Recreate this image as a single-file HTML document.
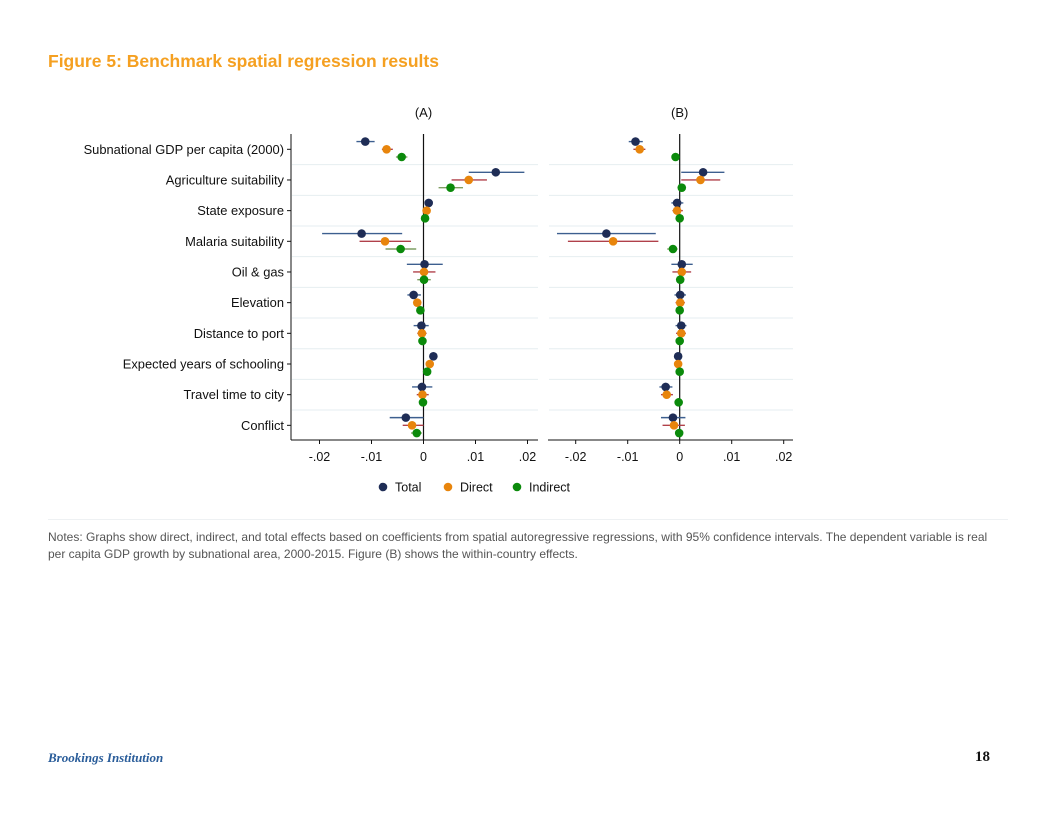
<!DOCTYPE html>
<html><head><meta charset="utf-8">
<style>
body{margin:0;width:1056px;height:816px;background:#fff;font-family:"Liberation Sans",sans-serif;position:relative;overflow:hidden}
.title{position:absolute;left:48px;top:51px;font-size:17.5px;font-weight:bold;color:#F5A021}
.notes{position:absolute;left:48px;top:529px;font-size:12px;line-height:17px;color:#555;width:950px}
.sep{position:absolute;left:48px;top:519px;width:960px;height:1px;background:#eef1f3}
.foot{position:absolute;left:48px;top:750px;font-family:"Liberation Serif",serif;font-style:italic;font-weight:bold;font-size:13px;color:#2a5d9a}
.page{position:absolute;left:975px;top:749px;font-family:"Liberation Serif",serif;font-weight:bold;font-size:15px;color:#111}
svg{position:absolute;left:0;top:0}
</style></head><body>
<div class="title">Figure 5: Benchmark spatial regression results</div>
<svg id="chart" width="1056" height="816"></svg>
<div class="sep"></div>
<div class="notes">Notes: Graphs show direct, indirect, and total effects based on coefficients from spatial autoregressive regressions, with 95% confidence intervals. The dependent variable is real per capita GDP growth by subnational area, 2000-2015. Figure (B) shows the within-country effects.</div>
<div class="foot">Brookings Institution</div>
<div class="page">18</div>
<script>
const categories=["Subnational GDP per capita (2000)","Agriculture suitability","State exposure","Malaria suitability","Oil & gas","Elevation","Distance to port","Expected years of schooling","Travel time to city","Conflict"];
const tickValues=[-0.02,-0.01,0,0.01,0.02];
const tickLabels=["-.02","-.01","0",".01",".02"];
const seriesNames=["Total","Direct","Indirect"];
// Panel A: [estimate, lo, hi]
const aTotal=[[-.0112,-.0129,-.0094],[.0139,.0087,.0194],[.001,.0005,.0015],[-.0119,-.0195,-.0041],[.0002,-.0032,.0037],[-.0019,-.0031,-.0005],[-.0004,-.0019,.001],[.0019,.0014,.0024],[-.0003,-.0022,.0017],[-.0034,-.0065,0]];
const aDirect=[[-.0071,-.008,-.0059],[.0087,.0054,.0122],[.0006,.0003,.0009],[-.0074,-.0123,-.0024],[.0001,-.002,.0023],[-.0012,-.0018,-.0006],[-.0003,-.0012,.0006],[.0012,.0009,.0015],[-.0002,-.0013,.001],[-.0022,-.004,0]];
const aIndirect=[[-.0042,-.0053,-.0031],[.0052,.0029,.0076],[.0003,.0001,.0005],[-.0044,-.0073,-.0014],[.0001,-.0012,.0014],[-.0006,-.001,-.0003],[-.0002,-.0004,0],[.0007,.0005,.0009],[-.0001,-.0003,.0001],[-.0013,-.0024,-.0003]];
// Panel B
const bTotal=[[-.0085,-.0098,-.0071],[.0045,.0003,.0086],[-.0005,-.0016,.0007],[-.0141,-.0236,-.0046],[.0004,-.0016,.0025],[.0001,-.001,.0012],[.0003,-.0008,.0013],[-.0003,-.001,.0004],[-.0027,-.0039,-.0014],[-.0013,-.0036,.0011]];
const bDirect=[[-.0077,-.0089,-.0066],[.004,.0003,.0078],[-.0005,-.0014,.0006],[-.0128,-.0215,-.0041],[.0004,-.0014,.0022],[.0001,-.0008,.001],[.0003,-.0007,.0012],[-.0003,-.0008,.0002],[-.0025,-.0036,-.0013],[-.0011,-.0033,.001]];
const bIndirect=[[-.0008,-.001,-.0006],[.0004,.0002,.0006],[0,-.0002,.0002],[-.0013,-.0024,-.0004],[.0001,-.0001,.0003],[0,-.0002,.0002],[0,-.0002,.0002],[0,-.0002,.0002],[-.0002,-.0004,0],[-.0001,-.0003,.0001]];

const NS="http://www.w3.org/2000/svg";
const svg=document.getElementById('chart');
function mk(t,a,p){const e=document.createElementNS(NS,t);for(const k in a)e.setAttribute(k,a[k]);(p||svg).appendChild(e);return e;}
const dotCol=["#1f2d56","#e8850c","#0b8a0b"];
const ciCol=["#3d5f8f","#b0404a","#7f9e63"];
const rowY=i=>149.3+i*30.67;
const offs=[-7.7,0,7.7];
function panel(zero,left,right,title,data,leftAxis,name){
  const g=mk('g',{});
  
  
  const x=v=>zero+v*5200;
  const top=134,bot=440;
  for(let i=1;i<categories.length;i++){
    const l=mk('line',{x1:left+1,x2:right,y1:rowY(i)-15.3,y2:rowY(i)-15.3,stroke:'#e6eef0','stroke-width':1},g);
    
    
  }
  const t=mk('text',{x:zero,y:117,'text-anchor':'middle','font-size':13,fill:'#111'},g);t.textContent=title;
  
  
  mk('line',{x1:left,x2:right,y1:bot,y2:bot,stroke:'#111','stroke-width':1},g);
  if(leftAxis){mk('line',{x1:left,x2:left,y1:top,y2:bot,stroke:'#111','stroke-width':1},g);
    categories.forEach((c,i)=>{mk('line',{x1:left-4,x2:left,y1:rowY(i),y2:rowY(i),stroke:'#111'},g);
      const tl=mk('text',{x:left-7,y:rowY(i)+4.5,'text-anchor':'end','font-size':12.9,fill:'#111'},g);tl.textContent=c;
      
      });}
  tickValues.forEach((v,i)=>{mk('line',{x1:x(v),x2:x(v),y1:bot,y2:bot+4,stroke:'#111'},g);
    const tt=mk('text',{x:x(v),y:bot+21,'text-anchor':'middle','font-size':12.5,fill:'#111'},g);tt.textContent=tickLabels[i];
    
    });
  mk('line',{x1:x(0),x2:x(0),y1:top,y2:bot,stroke:'#111','stroke-width':1.2},g);
  data.forEach((s,si)=>{s.forEach((d,i)=>{const y=rowY(i)+offs[si];
    const ci=mk('line',{x1:x(d[1]),x2:x(d[2]),y1:y,y2:y,stroke:ciCol[si],'stroke-width':1.4},g);
    
    
    const p=mk('circle',{cx:x(d[0]),cy:y,r:4.3,fill:dotCol[si]},g);
    
    });});
}
panel(423.5,291,538,"(A)",[aTotal,aDirect,aIndirect],true,'panel-a');
panel(679.7,548,793,"(B)",[bTotal,bDirect,bIndirect],false,'panel-b');
const lx=[383,448,517];
seriesNames.forEach((n,i)=>{const g=mk('g',{});
  
  
  mk('circle',{cx:lx[i],cy:487,r:4.3,fill:dotCol[i]},g);
  const t=mk('text',{x:lx[i]+12,y:491.5,'font-size':12.5,fill:'#111'},g);t.textContent=n;});
</script>
</body></html>
